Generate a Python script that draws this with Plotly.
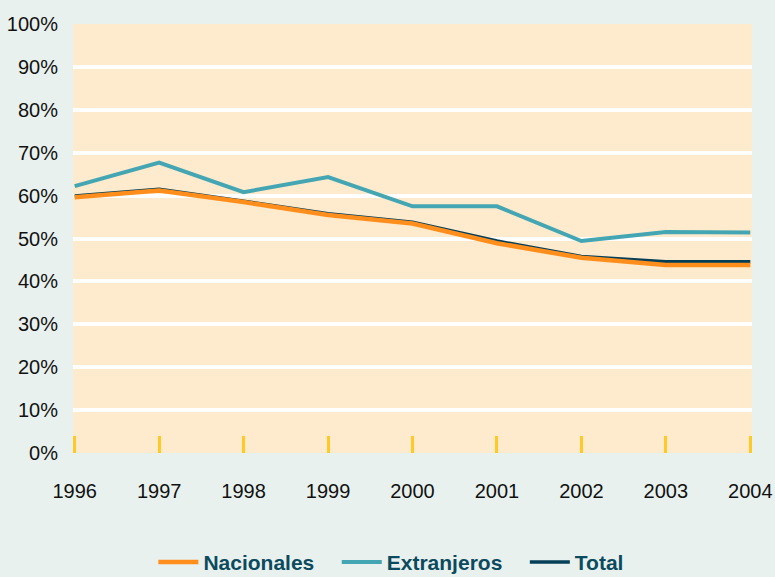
import plotly.graph_objects as go

years = [1996, 1997, 1998, 1999, 2000, 2001, 2002, 2003, 2004]
nacionales = [59.6, 61.2, 58.5, 55.5, 53.5, 48.9, 45.5, 43.8, 43.8]
extranjeros = [62.2, 67.7, 60.8, 64.3, 57.5, 57.5, 49.4, 51.5, 51.4]
total = [59.9, 61.5, 58.7, 55.8, 53.8, 49.4, 45.8, 44.6, 44.6]
y_ticks = [0, 10, 20, 30, 40, 50, 60, 70, 80, 90, 100]
y_labels = [f"{v}%" for v in y_ticks]

FONT = "Liberation Sans Narrow, Arial Narrow, Liberation Sans, sans-serif"
PAD = "\u00a0\u00a0\u00a0"

fig = go.Figure()
fig.add_trace(go.Scatter(x=years, y=total, name="Total", mode="lines",
                         line=dict(color="#053F57", width=3.5), legendrank=3))
fig.add_trace(go.Scatter(x=years, y=nacionales, name="Nacionales" + PAD, mode="lines",
                         line=dict(color="#FF8E1C", width=4.5), legendrank=1))
fig.add_trace(go.Scatter(x=years, y=extranjeros, name="Extranjeros" + PAD, mode="lines",
                         line=dict(color="#45A6B3", width=4), legendrank=2))

fig.update_layout(
    width=775, height=577,
    margin=dict(l=73, r=23, t=24, b=124, autoexpand=False),
    paper_bgcolor="#E9F1EE",
    plot_bgcolor="#FEEBCE",
    font=dict(family=FONT, size=20, color="#111111"),
    showlegend=True,
    legend=dict(orientation="h", xref="container", x=0.505, xanchor="center",
                y=-0.255, yanchor="middle",
                font=dict(family=FONT, size=21, color="#0C4A5E", weight="bold"),
                bgcolor="rgba(0,0,0,0)", itemwidth=40, tracegroupgap=0),
    xaxis=dict(range=[1995.98, 2004.02], tickmode="array", tickvals=years,
               ticktext=[str(y) for y in years], automargin=False,
               showgrid=False, zeroline=False, showline=False,
               ticks="inside", ticklen=17, tickwidth=3, tickcolor="#FFC926",
               ticklabelstandoff=24, ticklabeloverflow="allow",
               tickfont=dict(family=FONT, size=20, color="#111111")),
    yaxis=dict(range=[0, 100], tickmode="array", tickvals=y_ticks, ticktext=y_labels,
               showgrid=True, gridcolor="#FFFFFF", gridwidth=4, automargin=False,
               zeroline=False, showline=False, ticks="",
               ticklabelstandoff=14, ticklabeloverflow="allow",
               tickfont=dict(family=FONT, size=20, color="#111111")),
)

fig.write_html("out.html", config={"displayModeBar": False},
               post_script="document.body.style.margin='0';")
